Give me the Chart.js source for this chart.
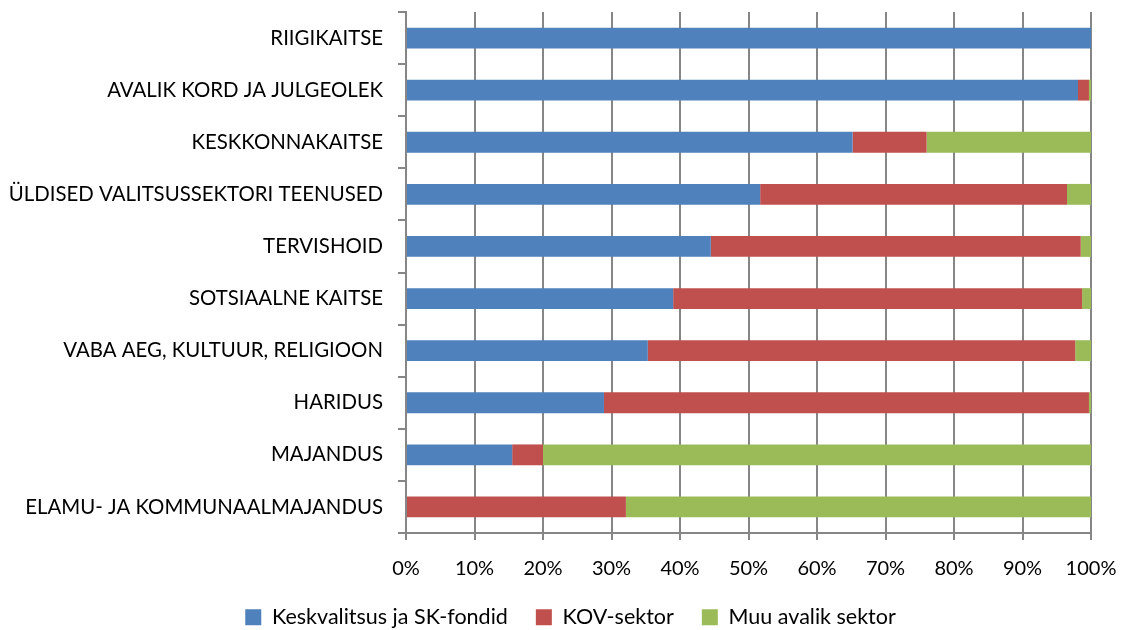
<!DOCTYPE html>
<html>
<head>
<meta charset="utf-8">
<script src="https://cdn.jsdelivr.net/npm/chart.js@4"></script>
<style>
  html, body { margin: 0; padding: 0; background: #fff; }
  #wrap { width: 1122px; height: 630px; }
</style>
</head>
<body>
<div id="wrap"><canvas id="chart" width="1122" height="630"></canvas></div>
<script>
// Kategooriad (ülevalt alla)
const categories = [
    "RIIGIKAITSE",
    "AVALIK KORD JA JULGEOLEK",
    "KESKKONNAKAITSE",
    "ÜLDISED VALITSUSSEKTORI TEENUSED",
    "TERVISHOID",
    "SOTSIAALNE KAITSE",
    "VABA AEG, KULTUUR, RELIGIOON",
    "HARIDUS",
    "MAJANDUS",
    "ELAMU- JA KOMMUNAALMAJANDUS"
];

// Osakaalud, %
const keskvalitsus = [100, 98.1, 65.2, 51.7, 44.5, 39.0, 35.3, 28.9, 15.5, 0];
const kovSektor    = [0, 1.6, 10.8, 44.8, 54.0, 59.7, 62.4, 70.8, 4.5, 32.1];
const muuAvalik    = [0, 0.3, 24.0, 3.5, 1.5, 1.3, 2.3, 0.3, 80.0, 67.9];

const xTicks = [0, 10, 20, 30, 40, 50, 60, 70, 80, 90, 100];

const fontFamily = "Lato, 'Open Sans', sans-serif";
const gridColor = "#868686";

// Legend veidi paremale, et keskpunkt jääks joonise keskele
const legendShift = {
    id: "legendShift",
    afterLayout(chart) {
        if (chart.legend) chart.legend.left += 50;
    }
};

const ctx = document.getElementById("chart").getContext("2d");
new Chart(ctx, {
    type: "bar",
    data: {
        labels: categories,
        datasets: [
            { label: "Keskvalitsus ja SK-fondid", data: keskvalitsus, backgroundColor: "#4F81BD" },
            { label: "KOV-sektor", data: kovSektor, backgroundColor: "#C0504D" },
            { label: "Muu avalik sektor", data: muuAvalik, backgroundColor: "#9BBB59" }
        ]
    },
    plugins: [legendShift],
    options: {
        indexAxis: "y",
        responsive: false,
        animation: false,
        layout: { padding: { left: 0, right: 31, top: 12, bottom: -8 } },
        datasets: { bar: { barPercentage: 0.8, categoryPercentage: 0.5, borderWidth: 0 } },
        scales: {
            x: {
                stacked: true,
                min: 0,
                max: 100,
                afterBuildTicks: scale => { scale.ticks = xTicks.map(v => ({ value: v })); },
                afterFit: scale => {
                    scale.height = 45.5;
                    scale.paddingLeft = 0;
                    scale.paddingRight = 0;
                },
                ticks: {
                    callback: v => v + "%",
                    color: "#000",
                    font: { family: fontFamily, size: 20 },
                    padding: 17
                },
                grid: { color: gridColor, lineWidth: 2, tickLength: 7 },
                border: { color: gridColor, width: 2 }
            },
            y: {
                stacked: true,
                afterFit: scale => {
                    scale.width = 406;
                    scale.paddingTop = 0;
                    scale.paddingBottom = 0;
                },
                ticks: {
                    color: "#000",
                    font: { family: fontFamily, size: 20.4 },
                    padding: 15
                },
                grid: { drawOnChartArea: false, color: gridColor, lineWidth: 2, tickLength: 8 },
                border: { color: gridColor, width: 2 }
            }
        },
        plugins: {
            legend: {
                position: "bottom",
                labels: {
                    color: "#000",
                    font: { family: fontFamily, size: 21.5 },
                    boxWidth: 16,
                    boxHeight: 16,
                    padding: 28
                }
            },
            tooltip: { enabled: false }
        }
    }
});
</script>
</body>
</html>
